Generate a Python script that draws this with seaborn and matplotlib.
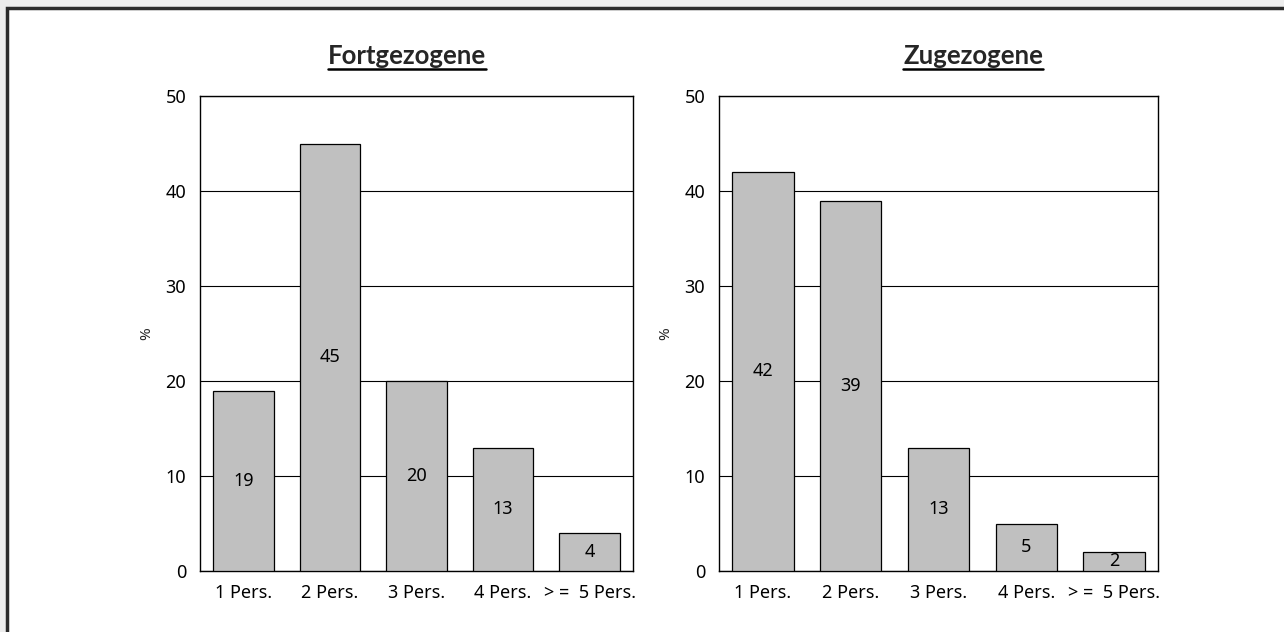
import matplotlib
matplotlib.use("Agg")
import matplotlib.pyplot as plt
import seaborn as sns
import pandas as pd
from matplotlib.lines import Line2D
from matplotlib.patches import Rectangle

sns.set_theme(style="white")
plt.rcParams["font.family"] = ["Noto Sans", "DejaVu Sans"]

# data
categories = ["1 Pers.", "2 Pers.", "3 Pers.", "4 Pers.", "> =  5 Pers."]
fortgezogene = [19, 45, 20, 13, 4]
zugezogene = [42, 39, 13, 5, 2]
titles = ["Fortgezogene", "Zugezogene"]
yticks = [0, 10, 20, 30, 40, 50]

W, H = 1284, 632
fig = plt.figure(figsize=(W / 100, H / 100), dpi=100)

# frame of the original page
fig.patches.append(Rectangle((0, 0), 1, 1, transform=fig.transFigure,
                             facecolor="#ececec", edgecolor="none", zorder=-3))
fig.patches.append(Rectangle((7 / W, -0.1), 1.1, (H - 8) / H + 0.1, transform=fig.transFigure,
                             facecolor="white", edgecolor="#2a2a2a", linewidth=2.5, zorder=-2))

boxes = [(200, 633), (719, 1158)]
title_x = [407, 973]
top, bottom = 96, 571

for (x0, x1), tx, title, vals in zip(boxes, title_x, titles, [fortgezogene, zugezogene]):
    ax = fig.add_axes([x0 / W, 1 - bottom / H, (x1 - x0) / W, (bottom - top) / H])
    df = pd.DataFrame({"cat": categories, "val": vals})
    sns.barplot(data=df, x="cat", y="val", color="#c0c0c0", saturation=1,
                width=0.7, edgecolor="black", linewidth=0.9, ax=ax, zorder=3)
    ax.set_xlim(-0.5, 4.5)
    ax.set_ylim(0, 50)
    ax.set_yticks(yticks)
    ax.yaxis.grid(True, color="black", linewidth=0.8)
    ax.set_axisbelow(True)
    for s in ax.spines.values():
        s.set_visible(True)
        s.set_color("black")
        s.set_linewidth(1.0)
    ax.tick_params(axis="both", length=0, labelsize=13, colors="black")
    ax.tick_params(axis="x", pad=9)
    ax.tick_params(axis="y", pad=10)
    ax.set_xlabel("")
    ax.set_ylabel("%", fontsize=11, labelpad=8)
    for i, v in enumerate(vals):
        ax.text(i, v / 2, str(v), ha="center", va="center", fontsize=13, color="black", zorder=4)

    t = fig.text(tx / W, 1 - 56 / H, title, ha="center", va="center",
                 fontsize=18.5, fontweight="bold", family=["Lato", "DejaVu Sans"])
    fig.canvas.draw()
    bb = t.get_window_extent()
    uy = bb.y0 - 0.5
    fig.lines.append(Line2D([bb.x0 / W, bb.x1 / W], [uy / H, uy / H],
                            transform=fig.transFigure, color="black", linewidth=1.8))

fig.savefig("out.png", dpi=100)
